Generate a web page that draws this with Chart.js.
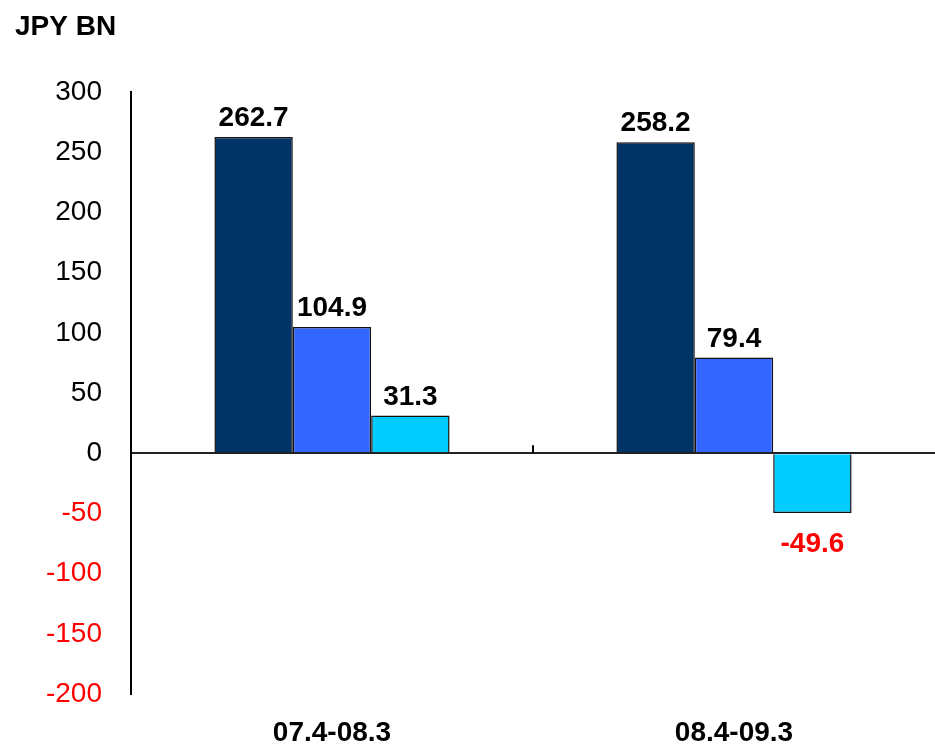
<!DOCTYPE html>
<html>
<head>
<meta charset="utf-8">
<script src="https://cdn.jsdelivr.net/npm/chart.js@4/dist/chart.umd.min.js"></script>
<style>
  html, body { margin: 0; padding: 0; background: #fff; }
  #wrap { position: relative; width: 935px; height: 745px; }
</style>
</head>
<body>
<div id="wrap"><canvas id="chart"></canvas></div>
<script>
const periods = ['07.4-08.3', '08.4-09.3'];
const series1 = [262.7, 258.2];
const series2 = [104.9, 79.4];
const series3 = [31.3, -49.6];
const yTicks = { min: -200, max: 300, step: 50 };

const FONT = "'Liberation Sans', Arial, sans-serif";

// unit caption in the top-left corner
const unitCaption = {
  id: 'unitCaption',
  afterDraw(chart) {
    const ctx = chart.ctx;
    ctx.save();
    ctx.font = 'bold 28px ' + FONT;
    ctx.fillStyle = '#000';
    ctx.textAlign = 'left';
    ctx.textBaseline = 'alphabetic';
    ctx.fillText('JPY BN', 15, 35);
    ctx.restore();
  }
};

// small tick between the two groups on the zero line
const groupTick = {
  id: 'groupTick',
  afterDatasetsDraw(chart) {
    const x = chart.scales.x, y = chart.scales.y;
    const px = (x.getPixelForValue(0) + x.getPixelForValue(1)) / 2;
    const py = y.getPixelForValue(0);
    const ctx = chart.ctx;
    ctx.save();
    ctx.strokeStyle = '#000';
    ctx.lineWidth = 2;
    ctx.beginPath();
    ctx.moveTo(px, py - 8);
    ctx.lineTo(px, py);
    ctx.stroke();
    ctx.restore();
  }
};

// value labels above (or below, in red) each bar
const valueLabels = {
  id: 'valueLabels',
  afterDatasetsDraw(chart) {
    const ctx = chart.ctx;
    ctx.save();
    ctx.font = 'bold 28px ' + FONT;
    ctx.textAlign = 'center';
    ctx.textBaseline = 'alphabetic';
    chart.data.datasets.forEach((ds, i) => {
      chart.getDatasetMeta(i).data.forEach((bar, j) => {
        const v = ds.data[j];
        if (v < 0) {
          ctx.fillStyle = '#FF0000';
          ctx.fillText(v.toFixed(1), bar.x, bar.y + 39);
        } else {
          ctx.fillStyle = '#000';
          ctx.fillText(v.toFixed(1), bar.x, bar.y - 11);
        }
      });
    });
    ctx.restore();
  }
};

const barStyle = {
  borderColor: '#111',
  borderWidth: 1.5,
  barPercentage: 1,
  categoryPercentage: 0.585
};

new Chart(document.getElementById('chart'), {
  type: 'bar',
  data: {
    labels: periods,
    datasets: [
      { label: 'Series 1', data: series1, backgroundColor: '#003366', ...barStyle },
      { label: 'Series 2', data: series2, backgroundColor: '#3366FF', ...barStyle },
      { label: 'Series 3', data: series3, backgroundColor: '#00CCFF', ...barStyle }
    ]
  },
  options: {
    responsive: true,
    maintainAspectRatio: false,
    animation: false,
    layout: { padding: { top: 92, right: 0, bottom: 0, left: 0 } },
    plugins: {
      legend: { display: false },
      tooltip: { enabled: false }
    },
    scales: {
      x: {
        grid: { display: false, drawTicks: false },
        border: { display: false },
        ticks: {
          padding: 22,
          color: '#000',
          font: { family: FONT, size: 28, weight: 'bold' }
        },
        afterFit: (s) => { s.height = 51; }
      },
      y: {
        min: yTicks.min,
        max: yTicks.max,
        border: { display: true, color: '#000', width: 2 },
        grid: {
          drawTicks: false,
          color: (c) => (c.tick && c.tick.value === 0 ? '#222' : 'rgba(0,0,0,0)'),
          lineWidth: 2
        },
        ticks: {
          stepSize: yTicks.step,
          padding: 29,
          font: { family: FONT, size: 28 },
          color: (c) => (c.tick && c.tick.value < 0 ? '#FF0000' : '#000')
        },
        afterFit: (s) => { s.width = 131; }
      }
    }
  },
  plugins: [unitCaption, groupTick, valueLabels]
});
</script>
</body>
</html>
